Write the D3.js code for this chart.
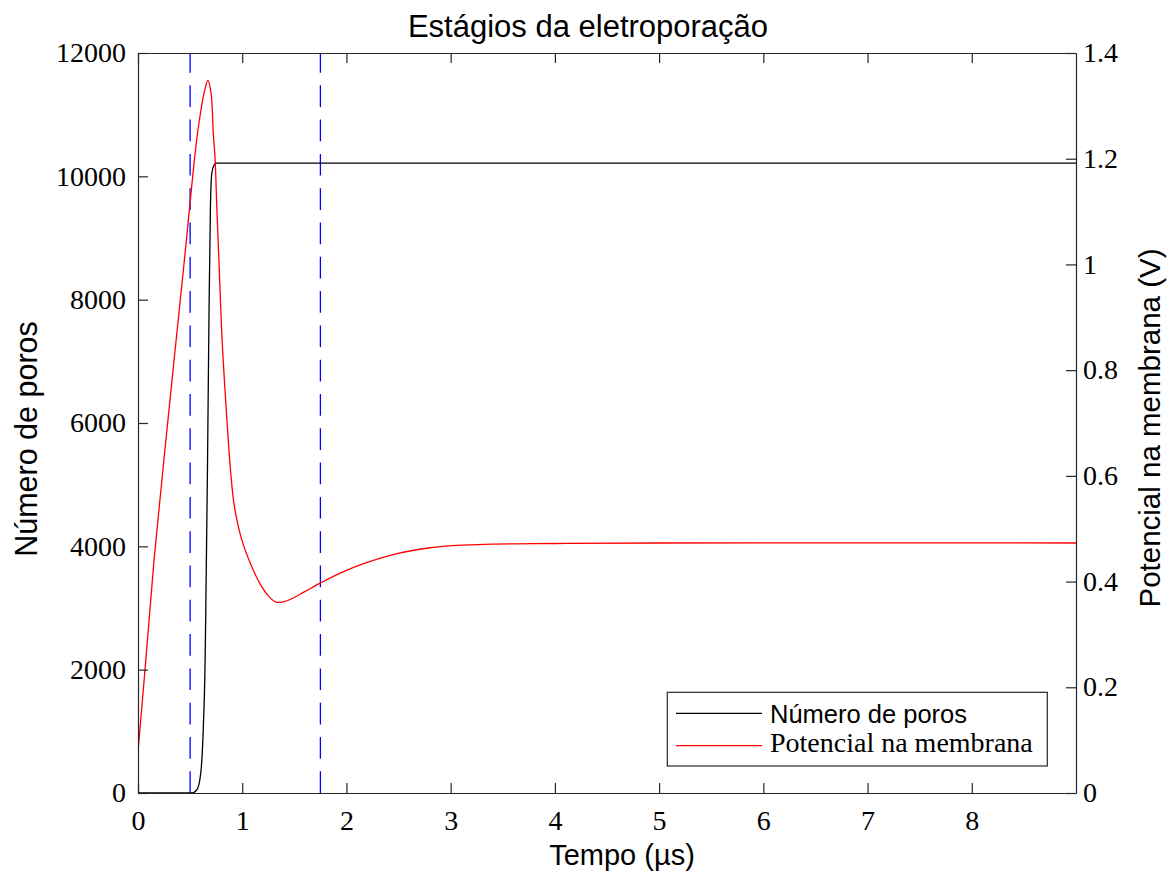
<!DOCTYPE html>
<html>
<head>
<meta charset="utf-8">
<script src="https://cdn.jsdelivr.net/npm/d3@7"></script>
<style>
  html, body { margin: 0; padding: 0; background: #fff; }
  svg { display: block; }
</style>
</head>
<body>
<svg id="chart" width="1173" height="872"></svg>
<script>
// Time axis (µs)
const xTicks = [0, 1, 2, 3, 4, 5, 6, 7, 8];
const leftTicks = [0, 2000, 4000, 6000, 8000, 10000, 12000];
const rightTicks = [0, 0.2, 0.4, 0.6, 0.8, 1, 1.2, 1.4];

// Número de poros vs tempo
const poresTime = [0, 0.50, 0.516, 0.564, 0.602, 0.627, 0.644, 0.650, 0.666, 0.682, 0.695, 0.708, 0.730, 0.750, 9.0];
const poresCount = [0, 0, 0, 49, 320, 1075, 2157, 2900, 5184, 7886, 9508, 10049, 10184, 10215, 10215];

// Potencial na membrana (V) vs tempo
const voltTime = [0, 0.067, 0.154, 0.30, 0.445, 0.477, 0.541, 0.580, 0.634, 0.670, 0.701, 0.722, 0.740, 0.756, 0.781, 0.807, 0.845, 0.890, 0.925, 0.996, 1.092, 1.170, 1.250, 1.326, 1.400, 1.470, 1.600, 1.748, 1.950, 2.165, 2.485, 2.805, 3.125, 3.400, 4.0, 5.0, 9.0];
const voltValue = [0.078, 0.233, 0.441, 0.73, 1.008, 1.071, 1.198, 1.261, 1.324, 1.348, 1.324, 1.25, 1.198, 1.109, 0.984, 0.857, 0.731, 0.605, 0.542, 0.479, 0.428, 0.396, 0.373, 0.361, 0.362, 0.367, 0.381, 0.397, 0.417, 0.434, 0.453, 0.464, 0.469, 0.471, 0.472, 0.473, 0.473];

// Stage boundaries (dashed markers)
const stageBounds = [0.5, 1.75];

const svg = d3.select("#chart");
const L = 138, R = 1076, T = 53, B = 793;
const axisColor = "#262626";
const serif = "'Liberation Serif', 'Times New Roman', serif";
const sans = "'Liberation Sans', Arial, Helvetica, sans-serif";

const x = d3.scaleLinear().domain([0, 9]).range([L, R]);
const yL = d3.scaleLinear().domain([0, 12000]).range([B, T]);
const yR = d3.scaleLinear().domain([0, 1.4]).range([B, T]);

svg.append("defs").append("clipPath").attr("id", "plotClip")
  .append("rect").attr("x", L).attr("y", T).attr("width", R - L).attr("height", B - T);

const plot = svg.append("g").attr("clip-path", "url(#plotClip)");

// Dashed stage markers, drawn from the bottom axis upward
plot.selectAll("line.stage").data(stageBounds).enter().append("line")
  .attr("class", "stage")
  .attr("x1", d => x(d)).attr("x2", d => x(d))
  .attr("y1", B).attr("y2", T)
  .attr("stroke", "#0000ff").attr("stroke-width", 1.3)
  .attr("stroke-dasharray", "21.7,12.6");

// Pore count curve
const poresData = poresTime.map((t, i) => [t, poresCount[i]]);
plot.append("path").datum(poresData)
  .attr("fill", "none").attr("stroke", "#000").attr("stroke-width", 1.3)
  .attr("d", d3.line().x(d => x(d[0])).y(d => yL(d[1])).curve(d3.curveMonotoneX));

// Membrane potential curve
const voltData = voltTime.map((t, i) => [t, voltValue[i]]);
plot.append("path").datum(voltData)
  .attr("fill", "none").attr("stroke", "#ff0000").attr("stroke-width", 1.3)
  .attr("d", d3.line().x(d => x(d[0])).y(d => yR(d[1])).curve(d3.curveCatmullRom.alpha(0.5)));

// Axes (ticks point inward)
function styleAxis(g) {
  g.select(".domain").attr("stroke", axisColor).attr("stroke-width", 1.2);
  g.selectAll(".tick line").attr("stroke", axisColor).attr("stroke-width", 1.2);
  g.selectAll(".tick text").attr("fill", "#000").attr("font-family", serif).attr("font-size", 28);
}

const xAxis = svg.append("g").attr("transform", `translate(0,${B})`)
  .call(d3.axisBottom(x).tickValues(xTicks).tickSize(-10).tickSizeOuter(0).tickPadding(0).tickFormat(d3.format("d")));
styleAxis(xAxis);
xAxis.selectAll(".tick text").attr("dy", null).attr("y", 37);

const xTop = svg.append("g").attr("transform", `translate(0,${T})`)
  .call(d3.axisTop(x).tickValues(xTicks).tickSize(-10).tickSizeOuter(0).tickFormat(""));
styleAxis(xTop);

const yAxisL = svg.append("g").attr("transform", `translate(${L},0)`)
  .call(d3.axisLeft(yL).tickValues(leftTicks).tickSize(-10).tickSizeOuter(0).tickPadding(0).tickFormat(d3.format("d")));
styleAxis(yAxisL);
yAxisL.selectAll(".tick text").attr("x", -12).attr("dy", "0.31em");

const yAxisR = svg.append("g").attr("transform", `translate(${R},0)`)
  .call(d3.axisRight(yR).tickValues(rightTicks).tickSize(-10).tickSizeOuter(0).tickPadding(0).tickFormat(d => d3.format("")(+d.toFixed(1))));
styleAxis(yAxisR);
yAxisR.selectAll(".tick text").attr("x", 7).attr("dy", "0.31em");

// Title and axis labels
svg.append("text").attr("x", 588).attr("y", 37).attr("text-anchor", "middle")
  .attr("font-family", sans).attr("font-size", 31).attr("fill", "#000")
  .text("Estágios da eletroporação");

svg.append("text").attr("x", 622).attr("y", 865).attr("text-anchor", "middle")
  .attr("font-family", sans).attr("font-size", 29).attr("fill", "#000")
  .text("Tempo (µs)");

svg.append("text").attr("transform", "translate(37,439) rotate(-90)").attr("text-anchor", "middle")
  .attr("font-family", sans).attr("font-size", 30.5).attr("fill", "#000")
  .text("Número de poros");

svg.append("text").attr("transform", "translate(1160,428) rotate(-90)").attr("text-anchor", "middle")
  .attr("font-family", sans).attr("font-size", 29.5).attr("fill", "#000")
  .text("Potencial na membrana (V)");

// Legend
const legendItems = [
  { label: "Número de poros", color: "#000", font: sans, size: 25.5, lineY: 713.3, textY: 722.5 },
  { label: "Potencial na membrana", color: "#ff0000", font: serif, size: 28, lineY: 745.7, textY: 751.7 }
];
const legend = svg.append("g");
legend.append("rect").attr("x", 667.3).attr("y", 692.3).attr("width", 380).attr("height", 73.7)
  .attr("fill", "#fff").attr("stroke", axisColor).attr("stroke-width", 1.2);
legend.selectAll("line.key").data(legendItems).enter().append("line")
  .attr("class", "key")
  .attr("x1", 676).attr("x2", 762).attr("y1", d => d.lineY).attr("y2", d => d.lineY)
  .attr("stroke", d => d.color).attr("stroke-width", 1.3);
legend.selectAll("text.key").data(legendItems).enter().append("text")
  .attr("class", "key")
  .attr("x", 770).attr("y", d => d.textY)
  .attr("font-family", d => d.font).attr("font-size", d => d.size).attr("fill", "#000")
  .text(d => d.label);
</script>
</body>
</html>
